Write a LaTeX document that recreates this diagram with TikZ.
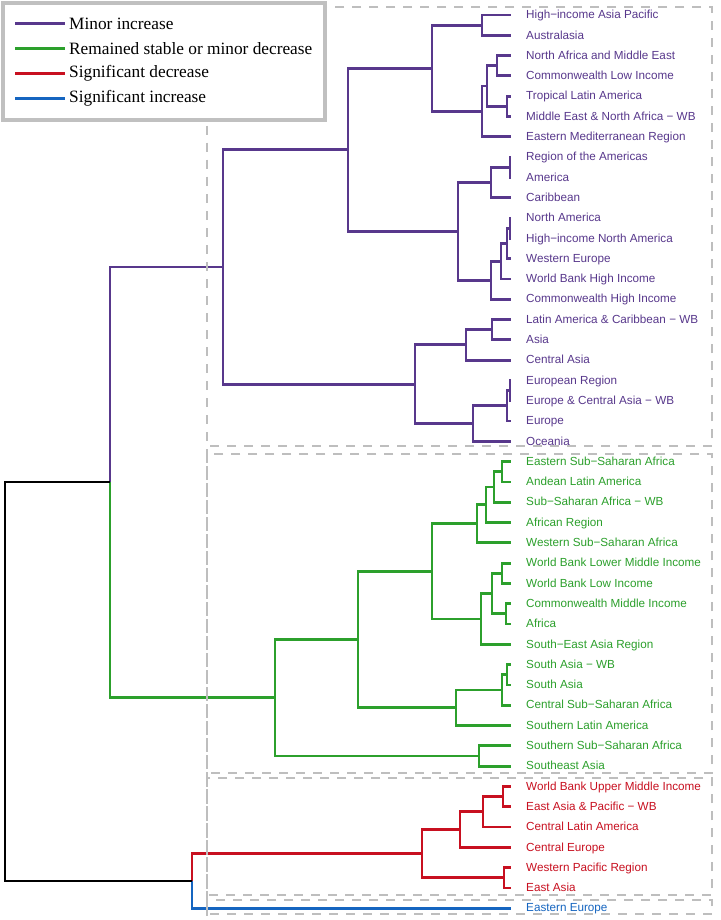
\documentclass[tikz,border=0pt]{standalone}
\usepackage{fontspec}
\setmainfont{Liberation Serif}
\newfontfamily\labfont{Liberation Sans}
\definecolor{pur}{RGB}{88,56,140}
\definecolor{grn}{RGB}{44,160,44}
\definecolor{rd}{RGB}{200,16,32}
\definecolor{bl}{RGB}{21,101,192}
\definecolor{dgray}{RGB}{190,190,190}
\definecolor{lgray}{RGB}{192,192,192}
\tikzset{
  leaf/.style={anchor=west, inner xsep=15pt, inner ysep=0pt, text height=9.5pt, text depth=2pt, font=\labfont\fontsize{11.7}{13}\selectfont},
  br/.style={line width=2.8pt, line join=miter},
  pbr/.style={br, draw=pur},
  gbr/.style={br, draw=grn},
  rbr/.style={br, draw=rd},
  bbr/.style={br, draw=bl},
  kbr/.style={line width=2.2pt, draw=black, line join=miter},
  grpbox/.style={draw=dgray, line width=2.2pt, dash pattern=on 9pt off 8pt},
  legline/.style={line width=2.8pt},
  legtext/.style={anchor=west, inner xsep=4pt, font=\fontsize{17.3}{19}\selectfont},
}
\begin{document}
\begin{tikzpicture}[x=1pt,y=-1pt]
\useasboundingbox (0,0) rectangle (720,920);
\fill[white] (0,0) rectangle (720,920);

% leaves
\foreach \i/\t/\c in {
 1/High−income Asia Pacific/pur, 2/Australasia/pur, 3/North Africa and Middle East/pur,
 4/Commonwealth Low Income/pur, 5/Tropical Latin America/pur, 6/Middle East \& North Africa − WB/pur,
 7/Eastern Mediterranean Region/pur, 8/Region of the Americas/pur, 9/America/pur, 10/Caribbean/pur,
 11/North America/pur, 12/High−income North America/pur, 13/Western Europe/pur,
 14/World Bank High Income/pur, 15/Commonwealth High Income/pur, 16/Latin America \& Caribbean − WB/pur,
 17/Asia/pur, 18/Central Asia/pur, 19/European Region/pur, 20/Europe \& Central Asia − WB/pur,
 21/Europe/pur, 22/Oceania/pur,
 23/Eastern Sub−Saharan Africa/grn, 24/Andean Latin America/grn, 25/Sub−Saharan Africa − WB/grn,
 26/African Region/grn, 27/Western Sub−Saharan Africa/grn, 28/World Bank Lower Middle Income/grn,
 29/World Bank Low Income/grn, 30/Commonwealth Middle Income/grn, 31/Africa/grn,
 32/South−East Asia Region/grn, 33/South Asia − WB/grn, 34/South Asia/grn,
 35/Central Sub−Saharan Africa/grn, 36/Southern Latin America/grn, 37/Southern Sub−Saharan Africa/grn,
 38/Southeast Asia/grn,
 39/World Bank Upper Middle Income/rd, 40/East Asia \& Pacific − WB/rd, 41/Central Latin America/rd,
 42/Central Europe/rd, 43/Western Pacific Region/rd, 44/East Asia/rd,
 45/Eastern Europe/bl}
 { \node[leaf, text=\c] (t\i) at (511,{15+(\i-1)*20.3}) {\t}; }

% purple cluster
\coordinate (a12) at (482,25.15);
\coordinate (a34) at (497,65.75);
\coordinate (a56) at (507,106.35);
\coordinate (a3456) at (487,86.05);
\coordinate (a37) at (482,111.43);
\coordinate (a17) at (432,68.29);
\coordinate (a89) at (510,167.25);
\coordinate (a810) at (491,182.48);
\coordinate (a1112) at (510,228.15);
\coordinate (a1113) at (507,243.38);
\coordinate (a1114) at (501,261.14);
\coordinate (a1115) at (491,280.17);
\coordinate (a815) at (458,231.32);
\coordinate (a115) at (348,149.81);
\coordinate (a1617) at (492,329.65);
\coordinate (a1618) at (466,344.88);
\coordinate (a1920) at (510,390.55);
\coordinate (a1921) at (507,405.78);
\coordinate (a1922) at (473,423.54);
\coordinate (a1622) at (415,384.21);
\coordinate (P) at (223,267.01);

\draw[pbr] (a12) |- (t1.west) (a12) |- (t2.west);
\draw[pbr] (a34) |- (t3.west) (a34) |- (t4.west);
\draw[pbr] (a56) |- (t5.west) (a56) |- (t6.west);
\draw[pbr] (a3456) |- (a34) (a3456) |- (a56);
\draw[pbr] (a37) |- (a3456) (a37) |- (t7.west);
\draw[pbr] (a17) |- (a12) (a17) |- (a37);
\draw[pbr] (a89) |- (t8.west) (a89) |- (t9.west);
\draw[pbr] (a810) |- (a89) (a810) |- (t10.west);
\draw[pbr] (a1112) |- (t11.west) (a1112) |- (t12.west);
\draw[pbr] (a1113) |- (a1112) (a1113) |- (t13.west);
\draw[pbr] (a1114) |- (a1113) (a1114) |- (t14.west);
\draw[pbr] (a1115) |- (a1114) (a1115) |- (t15.west);
\draw[pbr] (a815) |- (a810) (a815) |- (a1115);
\draw[pbr] (a115) |- (a17) (a115) |- (a815);
\draw[pbr] (a1617) |- (t16.west) (a1617) |- (t17.west);
\draw[pbr] (a1618) |- (a1617) (a1618) |- (t18.west);
\draw[pbr] (a1920) |- (t19.west) (a1920) |- (t20.west);
\draw[pbr] (a1921) |- (a1920) (a1921) |- (t21.west);
\draw[pbr] (a1922) |- (a1921) (a1922) |- (t22.west);
\draw[pbr] (a1622) |- (a1618) (a1622) |- (a1922);
\draw[pbr] (P) |- (a115) (P) |- (a1622);

% green cluster
\coordinate (b2324) at (502,471.75);
\coordinate (b2325) at (494,486.98);
\coordinate (b2326) at (486,504.74);
\coordinate (b2327) at (477,523.77);
\coordinate (b2829) at (502,573.25);
\coordinate (b3031) at (506,613.85);
\coordinate (b2831) at (492,593.55);
\coordinate (b2832) at (481,618.93);
\coordinate (b2332) at (432,571.35);
\coordinate (b3334) at (507,674.75);
\coordinate (b3335) at (502,689.98);
\coordinate (b3336) at (456,707.74);
\coordinate (b2336) at (358,639.55);
\coordinate (b3738) at (479,755.95);
\coordinate (G) at (275,697.75);

\draw[gbr] (b2324) |- (t23.west) (b2324) |- (t24.west);
\draw[gbr] (b2325) |- (b2324) (b2325) |- (t25.west);
\draw[gbr] (b2326) |- (b2325) (b2326) |- (t26.west);
\draw[gbr] (b2327) |- (b2326) (b2327) |- (t27.west);
\draw[gbr] (b2829) |- (t28.west) (b2829) |- (t29.west);
\draw[gbr] (b3031) |- (t30.west) (b3031) |- (t31.west);
\draw[gbr] (b2831) |- (b2829) (b2831) |- (b3031);
\draw[gbr] (b2832) |- (b2831) (b2832) |- (t32.west);
\draw[gbr] (b2332) |- (b2327) (b2332) |- (b2832);
\draw[gbr] (b3334) |- (t33.west) (b3334) |- (t34.west);
\draw[gbr] (b3335) |- (b3334) (b3335) |- (t35.west);
\draw[gbr] (b3336) |- (b3335) (b3336) |- (t36.west);
\draw[gbr] (b2336) |- (b2332) (b2336) |- (b3336);
\draw[gbr] (b3738) |- (t37.west) (b3738) |- (t38.west);
\draw[gbr] (G) |- (b2336) (G) |- (b3738);

% red cluster
\coordinate (c3940) at (503,796.55);
\coordinate (c3941) at (483,811.78);
\coordinate (c3942) at (460,829.54);
\coordinate (c4344) at (504,877.75);
\coordinate (R) at (422,853.65);

\draw[rbr] (c3940) |- (t39.west) (c3940) |- (t40.west);
\draw[rbr] (c3941) |- (c3940) (c3941) |- (t41.west);
\draw[rbr] (c3942) |- (c3941) (c3942) |- (t42.west);
\draw[rbr] (c4344) |- (t43.west) (c4344) |- (t44.west);
\draw[rbr] (R) |- (c3942) (R) |- (c4344);

% top levels
\coordinate (PG) at (110,482.38);
\coordinate (RB) at (192,880.9);
\coordinate (root) at (5,681.6);
\draw[pbr] (PG) |- (P);
\draw[gbr] (PG) |- (G);
\draw[rbr] (RB) |- (R);
\draw[bbr] (RB) |- (t45.west);
\draw[kbr] (root) |- (PG) (root) |- (RB);

% dashed group boxes
\draw[grpbox] (207,7) rectangle (712,446);
\draw[grpbox] (207,454) rectangle (712,773);
\draw[grpbox] (207,778) rectangle (712,895);
\draw[grpbox] (207,900) rectangle (712,914);
\draw[grpbox] (207,7) -- (207,916);

% legend
\node[draw=lgray, line width=4pt, fill=white, minimum width=322pt, minimum height=117pt, inner sep=0pt] (leg) at (164,61.5) {};
\coordinate (l1a) at (15,23.5); \coordinate (l1b) at (65,23.5);
\coordinate (l2a) at (15,48.5); \coordinate (l2b) at (65,48.5);
\coordinate (l3a) at (15,73.5); \coordinate (l3b) at (65,73.5);
\coordinate (l4a) at (15,98.5); \coordinate (l4b) at (65,98.5);
\draw[legline, pur] (l1a) -- (l1b);
\draw[legline, grn] (l2a) -- (l2b);
\draw[legline, rd] (l3a) -- (l3b);
\draw[legline, bl] (l4a) -- (l4b);
\node[legtext] (lt1) at (l1b) {Minor increase};
\node[legtext] (lt2) at (l2b) {Remained stable or minor decrease};
\node[legtext] (lt3) at (l3b) {Significant decrease};
\node[legtext] (lt4) at (l4b) {Significant increase};
\end{tikzpicture}
\end{document}
